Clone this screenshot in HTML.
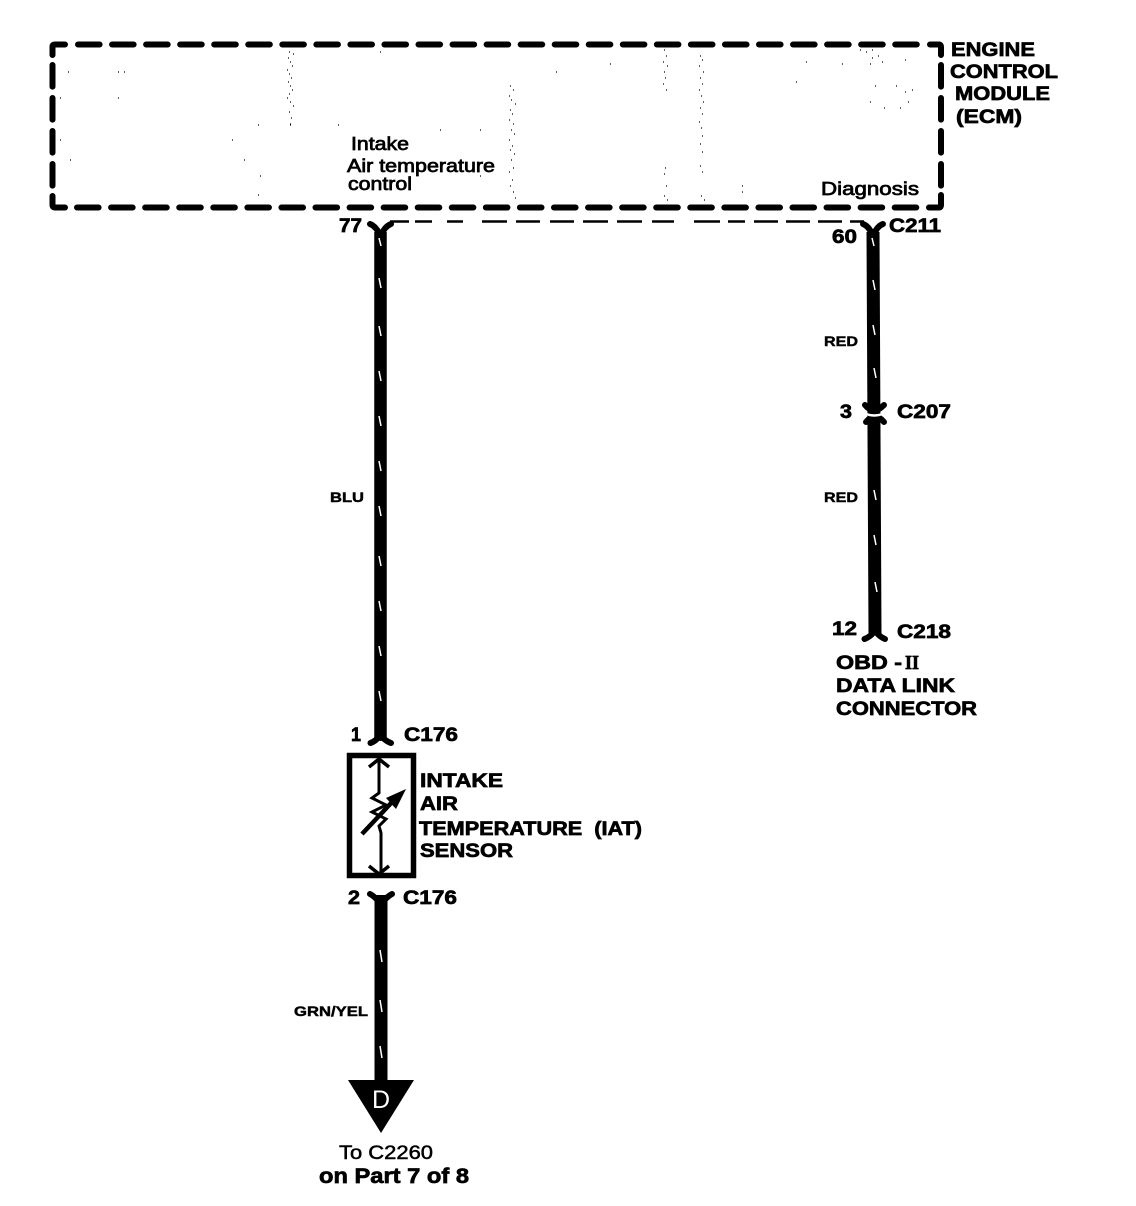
<!DOCTYPE html>
<html><head><meta charset="utf-8"><style>
html,body{margin:0;padding:0;background:#fff;width:1136px;height:1206px;overflow:hidden}
svg{display:block}
text{font-family:"Liberation Sans",sans-serif;fill:#000}
.b{font-weight:bold;font-size:19.5px;stroke:#000;stroke-width:.7px}
.r{font-size:18.5px;stroke:#000;stroke-width:.75px}
.s{font-weight:bold;font-size:14px;stroke:#000;stroke-width:.45px}
</style></head><body>
<svg width="1136" height="1206" viewBox="0 0 1136 1206" xmlns="http://www.w3.org/2000/svg">
<!-- ECM dashed box -->
<g fill="none" stroke="#000" stroke-linecap="round" stroke-width="6">
<path d="M78 44.5H925" stroke-dasharray="21.6 12.45"/>
<path d="M77 207.5H920" stroke-dasharray="21.6 12.47"/>
<path d="M52.5 65V188" stroke-dasharray="21.6 11.4"/>
<path d="M941 65V188" stroke-dasharray="21.6 11.4"/>
<path d="M52.5 55V46.5Q52.5 44.5 55 44.5H65"/>
<path d="M52.5 196V205Q52.5 207.5 55 207.5H65"/>
<path d="M930 44.5H939Q941 44.5 941 47V55"/>
<path d="M929 207.5H939Q941 207.5 941 205V195"/>
</g>
<!-- specks -->
<path stroke="#000" stroke-width="1.3" fill="none" d="M289 52h1M293 54h1M288 58h1M290 62h1M292 66h1M287 70h1M289 74h1M291 78h1M288 82h1M290 86h1M292 90h1M289 94h1M287 98h1M290 102h1M293 106h1M289 112h1M291 118h1M290 124h1M510 86h1M513 90h1M509 96h1M511 100h1M515 104h1M510 110h1M512 114h1M509 120h1M513 124h1M511 130h1M514 134h1M509 140h1M512 146h1M510 150h1M514 154h1M511 160h1M513 168h1M509 172h1M512 180h1M510 186h1M513 192h1M515 198h1M664 50h1M666 56h1M663 62h1M667 66h1M664 72h1M665 78h1M663 84h1M666 90h1M665 168h1M664 174h1M666 186h1M664 196h1M667 200h1M700 56h1M702 60h1M699 66h1M703 72h1M700 78h1M702 84h1M699 90h1M701 96h1M703 102h1M700 108h1M702 114h1M699 122h1M701 128h1M702 136h1M700 144h1M702 152h1M700 166h1M702 172h1M701 196h1M704 200h1M742 192h1M742 186h1M860 50h1M866 52h1M872 50h1M878 56h1M872 58h1M882 62h1M870 64h1M842 64h1M806 62h1M796 82h1M870 102h1M905 92h1M912 90h1M905 60h1M875 86h1M896 86h1M884 108h1M900 108h1M908 102h1M68 72h1M118 72h1M124 72h1M118 98h1M60 98h1M258 125h1M290 125h1M338 125h1M60 140h1M232 140h1M244 160h1M70 160h1M258 195h1M260 176h1M398 186h1M380 52h1M610 64h1M556 72h1M480 130h1M440 130h1M480 176h1"/>
<!-- thin dashed line -->
<path stroke="#000" stroke-width="2.4" fill="none" d="M390 221.500H409M415 221.500H432M447 221.500H463M482 221.500H507M516 221.500H540M550 221.500H574M583 221.500H608M617 221.500H642M652 221.500H674M694 221.500H720M728 221.500H745M754 221.500H778M786 221.500H810M818 221.500H842M850 221.500H864"/>
<!-- wires -->
<g fill="none" stroke="#000" stroke-linecap="round" stroke-linejoin="round">
<path d="M380.500 232V738" stroke-width="12.500" stroke-linecap="butt"/>
<path d="M370 224Q376 226 380.500 236Q385 226 391 224" stroke-width="6"/>
<path d="M380.500 730V738M370.500 743Q376 741 380.500 735Q385 741 391 743" stroke-width="6"/>
<path d="M381 895V1085" stroke-width="13" stroke-linecap="butt"/>
<path d="M370 894Q376 897 381 905Q386 897 392 894" stroke-width="6"/>
<path d="M873 232L875 634" stroke-width="13" stroke-linecap="butt"/>
<path d="M863 224Q869 226 873 236Q877 226 883 224" stroke-width="6"/>
<path d="M865 405Q870 411 874 410Q878 411 884 405" stroke-width="6"/>
<path d="M866 422Q871 416 874.500 417Q879 416 884 422" stroke-width="6"/>
<path d="M864.500 639Q870 637 875 631Q880 637 885 639" stroke-width="6"/>
</g>
<path d="M862 410.500Q874 418 887 410.500V413Q874 420.500 862 413Z" fill="#fff"/>
<!-- white ticks -->
<path stroke="#fff" stroke-width="1.500" fill="none" d="M379 278l2 10M379 326l2 10M379 371l2 10M379 416l2 10M379 461l2 10M379 506l2 10M379 556l2 10M379 601l2 10M379 646l2 10M379 691l2 10M379 238l2 8M380 950l2 12M380 1000l2 12M380 1046l2 12M872 238l2 8M873 280l2 10M873 325l2 10M874 368l2 10M874 490l2 10M874 535l2 10M875 582l2 10"/>
<!-- sensor -->
<rect x="349.500" y="755.500" width="64" height="120" fill="none" stroke="#000" stroke-width="5.500"/>
<g fill="none" stroke="#000">
<path d="M379 760V793L372 798L386 805L372 812L386 819L379 826L381 833V872" stroke-width="3"/>
<path d="M369 767L379 759L389 767M369 866L379 874L389 866" stroke-width="3.500"/>
<path d="M362 834L394 800" stroke-width="4.500"/>
</g>
<path d="M406 789L396 809L386 798Z" fill="#000"/>
<!-- off-page arrow -->
<path d="M348 1080H414L381 1133Z" fill="#000"/>
<text x="381" y="1108" text-anchor="middle" style="font-size:25px;fill:#fff">D</text>
<!-- labels -->
<text class="b" x="951" y="56" textLength="84" lengthAdjust="spacingAndGlyphs">ENGINE</text>
<text class="b" x="950" y="78" textLength="108" lengthAdjust="spacingAndGlyphs">CONTROL</text>
<text class="b" x="955" y="100" textLength="95" lengthAdjust="spacingAndGlyphs">MODULE</text>
<text class="b" x="956" y="123" textLength="66" lengthAdjust="spacingAndGlyphs">(ECM)</text>
<text class="r" x="351" y="150" textLength="58" lengthAdjust="spacingAndGlyphs">Intake</text>
<text class="r" x="347" y="172" textLength="148" lengthAdjust="spacingAndGlyphs">Air temperature</text>
<text class="r" x="348" y="190" textLength="64" lengthAdjust="spacingAndGlyphs">control</text>
<text class="r" x="821" y="195" textLength="98" lengthAdjust="spacingAndGlyphs">Diagnosis</text>
<text class="b" x="339" y="232" textLength="23" lengthAdjust="spacingAndGlyphs">77</text>
<text class="b" x="832" y="243" textLength="25" lengthAdjust="spacingAndGlyphs">60</text>
<text class="b" x="889" y="232" textLength="52" lengthAdjust="spacingAndGlyphs">C211</text>
<text class="s" x="824" y="346" textLength="34" lengthAdjust="spacingAndGlyphs">RED</text>
<text class="s" x="824" y="502" textLength="34" lengthAdjust="spacingAndGlyphs">RED</text>
<text class="s" x="330" y="502" textLength="34" lengthAdjust="spacingAndGlyphs">BLU</text>
<text class="s" x="294" y="1016" textLength="74" lengthAdjust="spacingAndGlyphs">GRN/YEL</text>
<text class="b" x="840" y="418" textLength="12" lengthAdjust="spacingAndGlyphs">3</text>
<text class="b" x="897" y="418" textLength="54" lengthAdjust="spacingAndGlyphs">C207</text>
<text class="b" x="832" y="635" textLength="25" lengthAdjust="spacingAndGlyphs">12</text>
<text class="b" x="897" y="638" textLength="54" lengthAdjust="spacingAndGlyphs">C218</text>
<text class="b" x="836" y="669" textLength="66" lengthAdjust="spacingAndGlyphs">OBD -</text>
<text class="b" x="905" y="669" textLength="14" lengthAdjust="spacingAndGlyphs" style="font-family:'Liberation Serif',serif">II</text>
<text class="b" x="836" y="692" textLength="119" lengthAdjust="spacingAndGlyphs">DATA LINK</text>
<text class="b" x="836" y="715" textLength="141" lengthAdjust="spacingAndGlyphs">CONNECTOR</text>
<text class="b" x="351" y="741" textLength="10" lengthAdjust="spacingAndGlyphs">1</text>
<text class="b" x="404" y="741" textLength="54" lengthAdjust="spacingAndGlyphs">C176</text>
<text class="b" x="420" y="787" textLength="83" lengthAdjust="spacingAndGlyphs">INTAKE</text>
<text class="b" x="420" y="810" textLength="38" lengthAdjust="spacingAndGlyphs">AIR</text>
<text class="b" x="419" y="835" textLength="223" lengthAdjust="spacingAndGlyphs" xml:space="preserve">TEMPERATURE  (IAT)</text>
<text class="b" x="420" y="857" textLength="93" lengthAdjust="spacingAndGlyphs">SENSOR</text>
<text class="b" x="348" y="904" textLength="12" lengthAdjust="spacingAndGlyphs">2</text>
<text class="b" x="403" y="904" textLength="54" lengthAdjust="spacingAndGlyphs">C176</text>
<text class="r" x="339" y="1159" textLength="94" lengthAdjust="spacingAndGlyphs" style="font-size:19.500px;stroke-width:.5px">To C2260</text>
<text class="b" x="319" y="1183" textLength="150" lengthAdjust="spacingAndGlyphs" style="font-size:21px">on Part 7 of 8</text>
</svg>
</body></html>
